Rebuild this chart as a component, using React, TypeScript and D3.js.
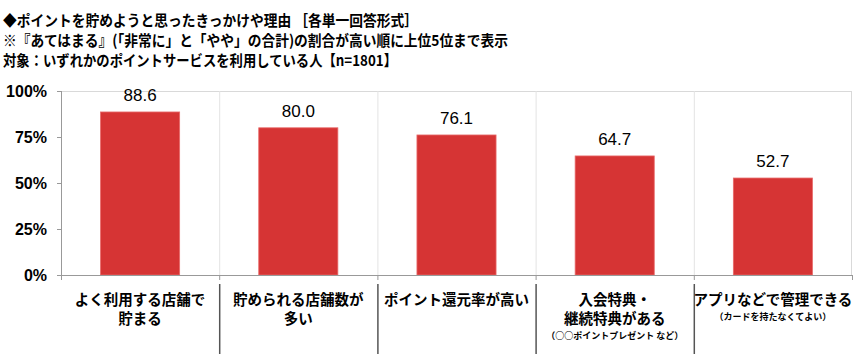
import * as d3 from 'd3';
import React, { useEffect, useRef } from 'react';

const titleLines = [
  '◆ポイントを貯めようと思ったきっかけや理由 ［各単一回答形式］',
  '※『あてはまる』(「非常に」と「やや」の合計)の割合が高い順に上位5位まで表示',
  '対象：いずれかのポイントサービスを利用している人【n=1801】',
];
const titleWidths = [415, 505, 394];
const categories = [
  ['よく利用する店舗で', '貯まる'],
  ['貯められる店舗数が', '多い'],
  ['ポイント還元率が高い'],
  ['入会特典・', '継続特典がある'],
  ['アプリなどで管理できる'],
];
const notes = ['', '', '', '（○○ポイントプレゼント など）', '（カードを持たなくてよい）'];
const values = [88.6, 80.0, 76.1, 64.7, 52.7];
const yTicks = [0, 25, 50, 75, 100];

const W = 860;
const H = 354;
const margin = { top: 91, right: 8, bottom: 79, left: 61 };
const jp = '"Noto Sans CJK JP", sans-serif';
const latin = '"Liberation Sans", Arial, sans-serif';

const App = () => {
  const ref = useRef<SVGSVGElement>(null);

  useEffect(() => {
    const svg = d3.select(ref.current);
    svg.selectAll('*').remove();
    const width = W - margin.left - margin.right;
    const height = H - margin.top - margin.bottom;

    // title
    svg.append('g')
      .selectAll('text')
      .data(titleLines)
      .enter()
      .append('text')
      .attr('x', 3)
      .attr('y', (d, i) => 26 + i * 20)
      .attr('font-family', jp)
      .attr('font-weight', 'bold')
      .attr('font-size', 15)
      .attr('textLength', (d, i) => titleWidths[i])
      .attr('lengthAdjust', 'spacingAndGlyphs')
      .attr('fill', '#000')
      .text((d) => d);

    const x = d3.scaleBand<number>()
      .domain(values.map((d, i) => i))
      .range([0, width])
      .paddingInner(0)
      .paddingOuter(0);
    const y = d3.scaleLinear().domain([0, 100]).range([height, 0]);

    const g = svg.append('g')
      .attr('transform', 'translate(' + margin.left + ',' + margin.top + ')');

    // frame + category dividers
    g.append('line')
      .attr('x1', 0).attr('x2', width).attr('y1', 0.5).attr('y2', 0.5)
      .attr('stroke', '#d9d9d9');
    g.append('line')
      .attr('x1', width - 0.5).attr('x2', width - 0.5).attr('y1', 0).attr('y2', height)
      .attr('stroke', '#d9d9d9');
    g.selectAll('.div')
      .data(values.slice(1).map((d, i) => i + 1))
      .enter()
      .append('line')
      .attr('x1', (d) => x(d)! + 0.5)
      .attr('x2', (d) => x(d)! + 0.5)
      .attr('y1', 0)
      .attr('y2', height)
      .attr('stroke', '#e3e3e3');

    // bars
    g.selectAll('.bar')
      .data(values)
      .enter()
      .append('rect')
      .attr('x', (d, i) => x(i)! + x.bandwidth() / 4)
      .attr('width', x.bandwidth() / 2)
      .attr('y', (d) => y(d))
      .attr('height', (d) => height - y(d))
      .attr('fill', '#D63434')
      .attr('stroke', '#E86A6A')
      .attr('stroke-width', 0.8);

    // value labels
    g.selectAll('.val')
      .data(values)
      .enter()
      .append('text')
      .attr('x', (d, i) => x(i)! + x.bandwidth() / 2)
      .attr('y', (d) => y(d) - 11)
      .attr('text-anchor', 'middle')
      .attr('font-family', latin)
      .attr('font-size', 17)
      .attr('fill', '#000')
      .text((d) => d.toFixed(1));

    // y axis
    g.append('line')
      .attr('x1', 0.5).attr('x2', 0.5).attr('y1', 0).attr('y2', height)
      .attr('stroke', '#999');
    g.selectAll('.ytick')
      .data(yTicks)
      .enter()
      .append('line')
      .attr('x1', -4).attr('x2', 0)
      .attr('y1', (d) => y(d) + 0.5).attr('y2', (d) => y(d) + 0.5)
      .attr('stroke', '#999');
    g.selectAll('.ylab')
      .data(yTicks)
      .enter()
      .append('text')
      .attr('x', -14)
      .attr('y', (d) => y(d) + 6)
      .attr('text-anchor', 'end')
      .attr('font-family', latin)
      .attr('font-weight', 'bold')
      .attr('font-size', 16)
      .attr('fill', '#000')
      .text((d) => d + '%');

    // x axis
    g.append('line')
      .attr('x1', 0).attr('x2', width).attr('y1', height + 0.5).attr('y2', height + 0.5)
      .attr('stroke', '#999');
    g.selectAll('.xtick')
      .data(d3.range(values.length + 1))
      .enter()
      .append('line')
      .attr('x1', (d) => (d < values.length ? x(d)! : width) + 0.5)
      .attr('x2', (d) => (d < values.length ? x(d)! : width) + 0.5)
      .attr('y1', height)
      .attr('y2', height + 5)
      .attr('stroke', '#999');

    // label separators
    g.selectAll('.sep')
      .data(values.slice(1).map((d, i) => i + 1))
      .enter()
      .append('line')
      .attr('x1', (d) => x(d)! + 0.5)
      .attr('x2', (d) => x(d)! + 0.5)
      .attr('y1', height + 9)
      .attr('y2', H - margin.top)
      .attr('stroke', '#555')
      .attr('stroke-width', 1.5);

    // category labels
    categories.forEach((lines, i) => {
      const cx = x(i)! + x.bandwidth() / 2;
      lines.forEach((t, j) => {
        g.append('text')
          .attr('x', cx)
          .attr('y', height + 30 + j * 19)
          .attr('text-anchor', 'middle')
          .attr('font-family', jp)
          .attr('font-weight', 'bold')
          .attr('font-size', 14.5)
          .attr('fill', '#000')
          .text(t);
      });
      if (notes[i]) {
        g.append('text')
          .attr('x', cx)
          .attr('y', height + 30 + lines.length * 19 - 4)
          .attr('text-anchor', 'middle')
          .attr('font-family', jp)
          .attr('font-weight', 'bold')
          .attr('font-size', 9)
          .attr('fill', '#000')
          .text(notes[i]);
      }
    });
  }, []);

  return (
    <div style={{ position: 'absolute', left: 0, top: 0 }}>
      <svg ref={ref} width={W} height={H} style={{ display: 'block', background: '#fff' }}></svg>
    </div>
  );
};

export default App;
